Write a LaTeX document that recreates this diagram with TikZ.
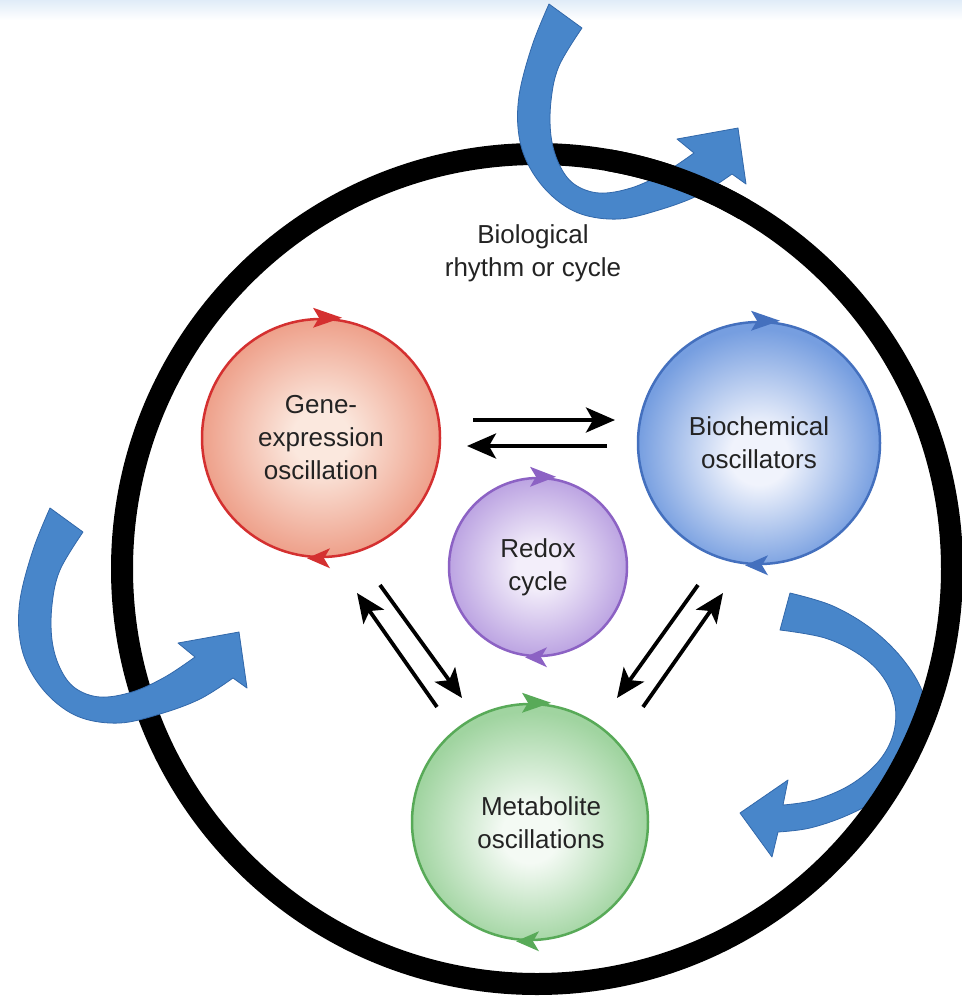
\documentclass[tikz,border=0pt]{standalone}
\usepackage{fontspec}
\setmainfont{Liberation Sans}
\usetikzlibrary{arrows.meta,calc}
\definecolor{bluearr}{RGB}{72,134,202}
\definecolor{bluearrD}{RGB}{50,104,170}
\definecolor{txt}{RGB}{35,35,35}
\definecolor{geneB}{RGB}{212,48,48}
\definecolor{geneIn}{RGB}{251,232,222}
\definecolor{geneOut}{RGB}{238,160,138}
\definecolor{bioB}{RGB}{68,112,190}
\definecolor{bioIn}{RGB}{240,243,252}
\definecolor{bioOut}{RGB}{118,158,224}
\definecolor{redB}{RGB}{140,98,196}
\definecolor{redIn}{RGB}{243,238,250}
\definecolor{redOut}{RGB}{188,164,226}
\definecolor{metB}{RGB}{88,170,88}
\definecolor{metIn}{RGB}{244,250,244}
\definecolor{metOut}{RGB}{160,212,160}
\definecolor{topbg}{RGB}{224,236,248}
\pgfdeclareradialshading{geneshade}{\pgfpoint{0bp}{0bp}}{color(0bp)=(geneIn); color(6bp)=(geneIn); color(25bp)=(geneOut); color(50bp)=(geneOut)}
\pgfdeclareradialshading{bioshade}{\pgfpoint{0bp}{-3bp}}{color(0bp)=(bioIn); color(6bp)=(bioIn); color(25bp)=(bioOut); color(50bp)=(bioOut)}
\pgfdeclareradialshading{redshade}{\pgfpoint{0bp}{0bp}}{color(0bp)=(redIn); color(6bp)=(redIn); color(25bp)=(redOut); color(50bp)=(redOut)}
\pgfdeclareradialshading{metshade}{\pgfpoint{0bp}{-3bp}}{color(0bp)=(metIn); color(6bp)=(metIn); color(25bp)=(metOut); color(50bp)=(metOut)}
\newcommand\lblfont{\fontsize{26}{33}\selectfont}
\newcommand\leftcurl{%
  plot[smooth, tension=0.6] coordinates {(50,508) (33,550) (20,600) (20,640) (31,672) (53,700) (82,718) (120,723) (160,714) (200,699) (233,678)}
  -- (247,688) -- (239,632) -- (178,643)
  -- plot[smooth, tension=0.6] coordinates {(195,657) (165,677) (132,692) (100,697) (75,688) (60,668) (52,640) (52,605) (60,570) (83,532)}
  -- cycle}
\tikzset{
  osc/.style={circle, inner sep=0pt, line width=2.5pt, align=center, font=\lblfont, text=txt, shade},
  lbl/.style={align=center, font=\lblfont, text=txt, inner sep=0pt},
  barrow/.style={line width=3.8pt, -{Stealth[length=29pt,width=25pt,inset=7pt]}},
  curvarr/.style={fill=bluearr, draw=bluearrD, line width=0.8pt, line join=round},
  cellring/.style={draw=black, line width=22pt},
}
\begin{document}
\begin{tikzpicture}[x=1pt, y=-1pt]
\useasboundingbox (0,0) rectangle (962,997);
\fill[white] (0,0) rectangle (962,997);
\shade[top color=topbg, bottom color=white] (0,0) rectangle (962,20);

% right blue arrow, passing under the ring
\path[curvarr] plot[smooth, tension=0.6] coordinates {(790,593) (833,606) (873,630) (905,662) (924,697) (924,735) (910,767) (884,795) (848,815) (810,828) (778,832)}
  -- (772,857) -- (740,813) -- (788,780)
  -- plot[smooth, tension=0.6] coordinates {(783,805) (815,800) (850,785) (878,762) (893,735) (895,705) (883,677) (860,655) (825,638) (780,630)}
  -- cycle;

% outer ring
\draw[cellring] (537,569) circle[radius=415];

% left and top blue arrows, over the ring
\path[curvarr] \leftcurl;
\begin{scope}[shift={(499,-504)}]
\path[curvarr] \leftcurl;
\end{scope}
\draw[cellring] (537,569) ++(-80:415) arc[start angle=-80, end angle=-60, radius=415];

\node[lbl] (title) at (533,253) {Biological\\rhythm or cycle};

% oscillators
\node[osc, minimum size=238pt, draw=geneB, shading=geneshade] (g) at (321,438) {Gene-\\expression\\oscillation};
\node[osc, minimum size=242pt, draw=bioB, shading=bioshade] (b) at (759,443) {Biochemical\\oscillators};
\node[osc, minimum size=178pt, draw=redB, shading=redshade] (r) at (538,567) {Redox\\cycle};
\node[osc, minimum size=236pt, draw=metB, shading=metshade] (m) at (530,822) {};
\node[lbl] (mt) at (541,823) {Metabolite\\oscillations};

% small cycle arrowheads
\fill[geneB] (g.north) ++(-8,-10) -- ++(29,10) -- ++(-29,10) -- ++(6,-10) -- cycle;
\fill[geneB] (g.south) ++(9,-10) -- ++(-23,10) -- ++(23,10) -- ++(-6,-10) -- cycle;
\fill[bioB] (b.north) ++(-8,-10) -- ++(29,10) -- ++(-29,10) -- ++(6,-10) -- cycle;
\fill[bioB] (b.south) ++(9,-10) -- ++(-23,10) -- ++(23,10) -- ++(-6,-10) -- cycle;
\fill[redB] (r.north) ++(-8,-10) -- ++(26,10) -- ++(-26,10) -- ++(6,-10) -- cycle;
\fill[redB] (r.south) ++(9,-10) -- ++(-22,10) -- ++(22,10) -- ++(-6,-10) -- cycle;
\fill[metB] (m.north) ++(-8,-10) -- ++(29,10) -- ++(-29,10) -- ++(6,-10) -- cycle;
\fill[metB] (m.south) ++(9,-10) -- ++(-23,10) -- ++(23,10) -- ++(-6,-10) -- cycle;

% exchange arrows
\draw[barrow] ($(g.center)+(152,-18)$) -- ($(b.center)+(-144,-23)$);
\draw[barrow] ($(b.center)+(-152,3)$) -- ($(g.center)+(146,8)$);
\draw[barrow] ($(g.center)+(59,147)$) -- ($(m.center)+(-68,-124)$);
\draw[barrow] ($(m.center)+(-93,-115)$) -- ($(g.center)+(36,155)$);
\draw[barrow] ($(b.center)+(-61,142)$) -- ($(m.center)+(87,-124)$);
\draw[barrow] ($(m.center)+(113,-115)$) -- ($(b.center)+(-36,150)$);
\end{tikzpicture}
\end{document}
